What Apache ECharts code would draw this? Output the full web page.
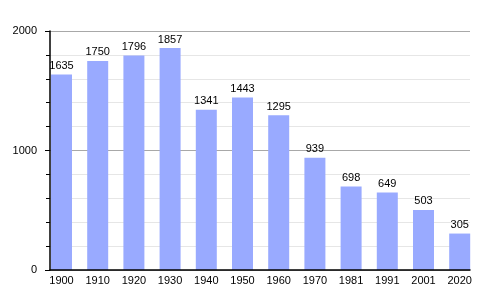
<!DOCTYPE html>
<html>
<head>
<meta charset="utf-8">
<script src="https://cdn.jsdelivr.net/npm/echarts@6/dist/echarts.min.js"></script>
<style>html,body{margin:0;padding:0;background:#fff}#c{width:500px;height:300px}</style>
</head>
<body>
<div id="c"></div>
<script>
const years = ['1900','1910','1920','1930','1940','1950','1960','1970','1981','1991','2001','2020'];
const population = [1635,1750,1796,1857,1341,1443,1295,939,698,649,503,305];
const yTicks = [0, 1000, 2000];

const chart = echarts.init(document.getElementById('c'));
const font = 'Liberation Sans, Arial, sans-serif';
chart.setOption({
  animation: false,
  grid: [
    {left: 50, right: 30, top: 31, bottom: 30},
    {left: 43.4, right: 22.2, top: 31, bottom: 30}
  ],
  xAxis: [
    {type: 'category', gridIndex: 0, data: years, axisLine: {lineStyle: {color: '#000', width: 1.5}},
     axisTick: {show: false}, axisLabel: {show: false}, splitLine: {show: false}, z: 5},
    {type: 'category', gridIndex: 1, data: years, axisLine: {show: false}, axisTick: {show: false},
     axisLabel: {color: '#000', fontSize: 11, fontFamily: font, margin: 5}}
  ],
  yAxis: [
    {type: 'value', gridIndex: 0, min: yTicks[0], max: yTicks[yTicks.length-1], interval: 1000,
     axisLine: {show: true, lineStyle: {color: '#000', width: 1.5}},
     axisTick: {show: true, inside: false, length: 5, lineStyle: {color: '#000'}},
     minorTick: {show: true, splitNumber: 5, length: 4, lineStyle: {color: '#000'}},
     axisLabel: {color: '#000', fontSize: 11, fontFamily: font, margin: 13, formatter: v => String(v)},
     splitLine: {show: true, lineStyle: {color: '#a8a8a8', width: 1}},
     minorSplitLine: {show: true, lineStyle: {color: '#e6e6e6', width: 1}}, z: 1},
    {type: 'value', gridIndex: 1, min: 0, max: 2000, show: false, splitLine: {show: false}}
  ],
  series: [{
    type: 'bar', xAxisIndex: 1, yAxisIndex: 1, data: population, barWidth: 21,
    itemStyle: {color: '#99aaff'}, z: 3,
    label: {show: true, position: 'top', distance: 3, color: '#000', fontSize: 11, fontFamily: font}
  }]
});
</script>
</body>
</html>
